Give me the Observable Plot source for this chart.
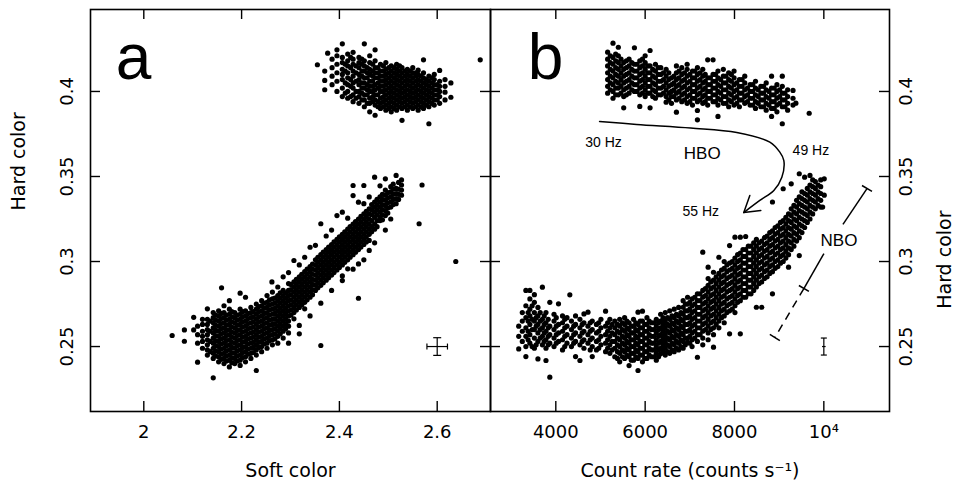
<!DOCTYPE html>
<html><head><meta charset="utf-8">
<script src="https://cdn.jsdelivr.net/npm/d3@7"></script>
<script src="https://cdn.jsdelivr.net/npm/@observablehq/plot@0.6"></script>
<style>
body{margin:0;background:#fff;}
#chart{position:relative;width:956px;height:481px;background:#fff;}
#chart svg{position:absolute;left:0;top:0;}
g[aria-label="ticklab"] text, g[aria-label="title"] text{letter-spacing:1px;}
</style></head><body><div id="chart"></div>
<script>
// ---------- axis ticks ----------
const yTicks = [0.25, 0.3, 0.35, 0.4];
const yTickLabels = ["0.25", "0.3", "0.35", "0.4"];
const aXTicks = [2, 2.2, 2.4, 2.6];
const aXLabels = ["2", "2.2", "2.4", "2.6"];
const bXTicks = [4000, 6000, 8000, 10000];
const bXLabels = ["4000", "6000", "8000", "10\u2074"];

// ---------- panel a: soft color vs hard color (columns: [soft, [hard...]]) ----------
const aUpper = [
[2.355,[.4157]],[2.37,[.401,.4065,.412]],[2.376,[.4225]],[2.385,[.404,.409,.414,.419]],
[2.395,[.400,.406,.411,.416,.421,.4245]],[2.406,[.397,.402,.407,.410,.413,.417,.420,.428]],
[2.417,[.396,.400,.404,.408,.411,.415,.418,.422]],[2.428,[.394,.398,.402,.405,.409,.412,.416,.419,.423]],
[2.44,[.393,.397,.400,.404,.407,.410,.414,.417,.420]],[2.451,[.391,.395,.398,.402,.405,.408,.412,.415,.418,.428]],
[2.462,[.388,.393,.396,.400,.403,.406,.410,.413,.417,.421]],[2.473,[.386,.392,.395,.398,.401,.404,.408,.411,.414,.418,.4245]],
[2.484,[.390,.393,.396,.400,.403,.406,.409,.412,.416]],[2.495,[.389,.392,.395,.398,.401,.404,.407,.410,.413,.417]],
[2.506,[.388,.391,.394,.397,.400,.403,.406,.409,.412,.415]],[2.517,[.389,.392,.395,.398,.401,.404,.407,.410,.413,.416]],
[2.528,[.383,.390,.393,.396,.399,.402,.405,.408,.411,.414]],[2.539,[.389,.392,.395,.398,.401,.404,.407,.410,.413]],
[2.55,[.390,.393,.396,.399,.402,.405,.408,.411,.414]],[2.561,[.389,.392,.395,.398,.401,.404,.407,.410,.4125]],
[2.572,[.390,.393,.396,.399,.402,.405,.408,.411,.4186]],[2.583,[.381,.391,.394,.397,.400,.403,.406,.409]],
[2.594,[.392,.395,.398,.401,.404,.407,.410]],[2.605,[.393,.397,.400,.403,.406,.4124]],
[2.616,[.395,.3996,.403,.407]],[2.628,[.3966,.405]],[2.688,[.4186]]
];
const aUpperMid = [
[2.412,[.399,.405,.412,.416]],[2.423,[.397,.403,.407,.414,.420]],[2.434,[.396,.400,.406,.411,.415]],
[2.446,[.395,.399,.402,.405,.409,.412,.416,.419]],[2.457,[.393,.398,.401,.404,.408,.411,.414]],
[2.468,[.394,.397,.400,.403,.406,.409,.412,.416]],[2.479,[.391,.394,.398,.402,.405,.408,.411,.414]],
[2.49,[.391,.394,.397,.400,.403,.406,.409,.412,.415]],[2.501,[.390,.393,.396,.399,.402,.405,.408,.411,.414]],
[2.512,[.390,.393,.396,.399,.402,.405,.408,.411,.414]],[2.523,[.391,.394,.397,.400,.403,.406,.409,.412,.415]],
[2.534,[.391,.394,.397,.400,.403,.406,.409,.412]],[2.545,[.391,.394,.397,.400,.403,.406,.409,.412]],
[2.556,[.391,.394,.397,.400,.403,.406,.409,.411]],[2.567,[.391,.394,.397,.400,.403,.406,.409]],
[2.578,[.392,.395,.398,.401,.404,.407]],[2.589,[.393,.396,.399,.402,.405,.408]],[2.60,[.395,.398,.401,.404]]
];
const aLower = [
[2.058,[.2565]],[2.083,[.2531,.2598]],[2.102,[.2598,.2672]],[2.11,[.2408,.252,.257,.262]],
[2.12,[.249,.253,.256,.259,.263,.266]],[2.13,[.245,.248,.251,.254,.257,.260,.263,.266,.2722]],
[2.142,[.2316,.243,.246,.249,.252,.255,.258,.261,.264,.267,.270]],
[2.153,[.241,.244,.247,.250,.253,.256,.259,.262,.265,.268,.271]],[2.159,[.2845]],
[2.164,[.240,.243,.246,.249,.252,.255,.258,.261,.264,.267,.270,.274]],
[2.175,[.238,.242,.245,.248,.251,.254,.257,.260,.263,.266,.269,.272,.277]],
[2.186,[.240,.243,.246,.249,.252,.255,.258,.261,.264,.267,.270]],
[2.197,[.2389,.242,.245,.248,.251,.254,.257,.260,.263,.266,.269,.272,.2814]],
[2.208,[.241,.244,.247,.250,.253,.256,.259,.262,.265,.268,.271,.279]],
[2.219,[.243,.246,.249,.252,.255,.258,.261,.264,.267,.270,.273]],
[2.23,[.2359,.245,.248,.251,.254,.257,.260,.263,.266,.269,.272,.275]],
[2.241,[.247,.250,.253,.256,.259,.262,.265,.268,.271,.274,.277]],
[2.252,[.249,.252,.255,.258,.261,.264,.267,.270,.273,.276,.280]],
[2.263,[.251,.254,.257,.260,.263,.266,.269,.272,.275,.278,.282]],
[2.274,[.252,.256,.259,.262,.265,.268,.271,.274,.277,.280,.285]],
[2.285,[.255,.259,.262,.265,.268,.271,.274,.277,.280,.283]],
[2.296,[.258,.262,.265,.268,.271,.274,.277,.280,.283,.287]],
[2.307,[.2663,.270,.273,.276,.279,.282,.285,.288,.3006]],
[2.318,[.2624,.273,.276,.279,.282,.285,.288,.291]],
[2.329,[.2722,.276,.279,.282,.285,.288,.291,.294]],
[2.34,[.279,.282,.285,.288,.291,.294,.297,.3084]],
[2.351,[.283,.286,.289,.292,.295,.298,.301]],
[2.362,[.2506,.286,.289,.292,.295,.298,.301,.304,.3222]],
[2.373,[.289,.292,.295,.298,.301,.304,.307]],
[2.384,[.292,.295,.298,.301,.304,.307,.310]],
[2.395,[.295,.298,.301,.304,.307,.310,.313,.327]],
[2.406,[.2888,.298,.301,.304,.307,.310,.313,.316,.329]],
[2.417,[.2957,.301,.304,.307,.310,.313,.316,.319]],
[2.428,[.304,.307,.310,.313,.316,.319,.322,.3388,.3447]],
[2.439,[.2784,.2986,.307,.310,.313,.316,.319,.322,.325,.3349]],
[2.45,[.310,.313,.316,.319,.322,.325,.328,.3447]],
[2.461,[.3065,.3124,.316,.319,.322,.325,.328,.331]],
[2.472,[.319,.322,.326,.329,.332,.335,.3496]],
[2.483,[.3241,.326,.329,.332,.335,.338]],
[2.494,[.327,.330,.333,.336,.339,.342,.3486]],
[2.505,[.332,.335,.338,.341,.344]],
[2.516,[.334,.337,.340,.343,.3506]],
[2.527,[.339,.342,.345,.348]],
[2.563,[.3222]],[2.569,[.345]],[2.638,[.300]]
];
const aLowerMid = [
[2.136,[.247,.253,.259,.265]],[2.147,[.2445,.2475,.2505,.2535,.2565,.2595,.2625,.2655,.2685]],
[2.158,[.2425,.2455,.2485,.2515,.2545,.2575,.2605,.2635,.2665,.2695]],
[2.169,[.2415,.2445,.2475,.2505,.2535,.2565,.2595,.2625,.2655,.2685]],
[2.18,[.2405,.2435,.2465,.2495,.2525,.2555,.2585,.2615,.2645,.2675,.2705]],
[2.191,[.2415,.2445,.2475,.2505,.2535,.2565,.2595,.2625,.2655,.2685]],
[2.202,[.2435,.2465,.2495,.2525,.2555,.2585,.2615,.2645,.2675,.2705]],
[2.213,[.2455,.2485,.2515,.2545,.2575,.2605,.2635,.2665,.2695]],
[2.224,[.2465,.2495,.2525,.2555,.2585,.2615,.2645,.2675,.2705]],
[2.235,[.2495,.2525,.2555,.2585,.2615,.2645,.2675,.2705,.2735]],
[2.246,[.2515,.2545,.2575,.2605,.2635,.2665,.2695,.2725,.2755]],
[2.257,[.2535,.2565,.2595,.2625,.2655,.2685,.2715,.2745,.2775]],
[2.268,[.2545,.2575,.2605,.2635,.2665,.2695,.2725,.2755,.2785]],
[2.279,[.2575,.2605,.2635,.2665,.2695,.2725,.2755,.2785,.2815]],
[2.29,[.2605,.2635,.2665,.2695,.2725,.2755,.2785,.2815]],
[2.301,[.2685,.2715,.2745,.2775,.2805,.2835,.2865]],[2.312,[.2715,.2745,.2775,.2805,.2835,.2865,.2895]],
[2.323,[.2745,.2775,.2805,.2835,.2865,.2895,.2925]],[2.334,[.2775,.2805,.2835,.2865,.2895,.2925,.2955]],
[2.345,[.2805,.2835,.2865,.2895,.2925,.2955,.2985]],[2.356,[.2845,.2875,.2905,.2935,.2965,.2995,.3025]],
[2.367,[.2875,.2905,.2935,.2965,.2995,.3025,.3055]],[2.378,[.2905,.2935,.2965,.2995,.3025,.3055,.3085]],
[2.389,[.2935,.2965,.2995,.3025,.3055,.3085,.3115]],[2.40,[.2965,.2995,.3025,.3055,.3085,.3115,.3145]],
[2.411,[.2995,.3025,.3055,.3085,.3115,.3145,.3175]],[2.422,[.3025,.3055,.3085,.3115,.3145,.3175,.3205]],
[2.433,[.3055,.3085,.3115,.3145,.3175,.3205,.3235]],[2.444,[.3085,.3115,.3145,.3175,.3205,.3235,.3265]],
[2.455,[.3115,.3145,.3175,.3205,.3235,.3265,.3295]],[2.466,[.3175,.3205,.3240,.3275,.3305,.3335]],
[2.477,[.3205,.3240,.3275,.3305,.3335,.3365]],[2.488,[.3245,.3275,.3305,.3335,.3365,.3395]],
[2.499,[.3285,.3315,.3345,.3375,.3405]],[2.51,[.3335,.3365,.3395,.3425,.3455]],[2.521,[.3365,.3395,.3425,.3465]]
];
// scattered points along both edges of the lower branch
const aLowerEdge = [
[2.262,[.288]],[2.285,[.291]],[2.296,[.2935,.252]],[2.318,[.298,.2575]],[2.329,[.3025]],[2.34,[.268]],
[2.351,[.3095]],[2.362,[.2755]],[2.373,[.315]],[2.384,[.3185,.283]],[2.406,[.2915]],[2.417,[.3255]],
[2.428,[.2955]],[2.45,[.334,.301]],[2.461,[.338]],[2.472,[.311]],[2.483,[.3445]],[2.494,[.3185]],[2.505,[.325]]
];
const aError = [{x: 2.6, y: 0.25, ex: 0.021, ey: 0.0052}];

// ---------- panel b: count rate vs hard color (columns: [rate, [hard...]]) ----------
const bUpper = [
[5160,[.4231,.399,.403,.407,.411,.415,.419]],[5280,[.396,.400,.404,.408,.412,.416,.420,.4284]],
[5400,[.398,.402,.405,.409,.413,.417,.421,.426]],[5520,[.3904,.397,.401,.405,.409,.413,.417]],
[5640,[.399,.403,.407,.411,.415,.419]],[5760,[.400,.404,.408,.412,.416,.4257]],
[5880,[.3912,.398,.402,.406,.410,.414,.418]],[6000,[.397,.401,.405,.409,.413,.417,.421]],
[6110,[.3904,.399,.403,.407,.411,.415,.4241]],[6230,[.396,.400,.404,.408,.412,.416]],
[6350,[.398,.402,.406,.410,.414]],[6470,[.3937,.397,.401,.405,.409,.413]],
[6590,[.393,.397,.400,.404,.408]],[6700,[.3878,.395,.399,.403,.407,.411,.415]],
[6820,[.394,.398,.402,.406,.410,.414]],[6940,[.393,.397,.401,.405,.409,.413,.416]],
[7060,[.392,.396,.400,.404,.408,.412]],[7170,[.3833,.3888,.394,.398,.402,.406,.410,.414]],
[7290,[.393,.397,.401,.405,.409,.413]],[7400,[.392,.396,.400,.404,.408,.4186]],
[7520,[.394,.398,.402,.406,.410,.4186]],[7630,[.3853,.392,.396,.400,.404,.408,.412]],
[7750,[.393,.397,.401,.405,.409,.413]],[7870,[.391,.395,.399,.403,.407,.411]],
[7990,[.392,.396,.400,.404,.408,.412]],[8110,[.391,.395,.399,.403,.407]],
[8230,[.393,.397,.401,.405,.409]],[8350,[.392,.396,.400,.404]],
[8470,[.390,.394,.398,.402,.406]],[8590,[.391,.395,.399,.403]],
[8710,[.389,.393,.397,.401,.405]],[8830,[.3853,.390,.394,.398,.402,.409]],
[8950,[.388,.392,.396,.400,.404]],[9070,[.381,.391,.395,.399,.403,.409]],
[9190,[.389,.393,.397,.401]],[9310,[.392,.396,.4006]],[9374,[.3931]],[9672,[.3872]]
];
const bUpperMid = [
[5220,[.401,.405,.409,.413,.417,.421]],[5340,[.398,.402,.406,.410,.414,.418,.422]],
[5460,[.399,.403,.407,.411,.415,.419]],[5580,[.398,.402,.406,.410,.414,.418]],
[5700,[.401,.405,.409,.413,.417]],[5820,[.400,.404,.408,.412,.416]],
[5940,[.399,.403,.407,.411,.415,.419]],[6055,[.399,.403,.407,.411,.415]],
[6170,[.397,.401,.405,.409,.413]],[6290,[.398,.402,.406,.410,.414]],
[6410,[.399,.403,.407,.411]],[6530,[.395,.399,.403,.407,.411]],
[6645,[.397,.401,.405,.409]],[6760,[.396,.400,.404,.408,.412]],
[6880,[.395,.399,.403,.407,.411]],[7000,[.394,.398,.402,.406,.410]],
[7115,[.396,.400,.404,.408,.412]],[7230,[.395,.399,.403,.407,.411]],
[7345,[.394,.398,.402,.406,.410]],[7460,[.396,.400,.404,.408]],
[7575,[.394,.398,.402,.406,.410]],[7690,[.395,.399,.403,.407]],
[7810,[.393,.397,.401,.405,.409]],[7930,[.394,.398,.402,.406,.410]],
[8050,[.393,.397,.401,.405]],[8170,[.395,.399,.403,.407]],
[8290,[.394,.398,.402]],[8410,[.392,.396,.400,.404]],
[8530,[.393,.397,.401]],[8650,[.391,.395,.399,.403]],
[8770,[.392,.396,.400]],[8890,[.390,.394,.398,.402]],
[9010,[.393,.397,.401]],[9130,[.391,.395,.399]]
];
const bLower = [
[3170,[.2486,.256,.262]],[3250,[.253,.259,.265,.270]],[3330,[.2441,.250,.256,.261,.267,.274,.283]],
[3420,[.252,.257,.263,.268,.272,.278,.283]],[3520,[.249,.255,.260,.265,.270,.276,.2805]],
[3600,[.2427,.253,.258,.263,.268,.273]],[3700,[.251,.256,.261,.266,.2849]],
[3780,[.2418,.249,.254,.259,.264,.270]],[3866,[.232,.252,.257,.262,.276]],
[3960,[.250,.255,.260,.265,.269]],[4060,[.253,.258,.263,.2751]],[4150,[.248,.254,.259,.264,.268]],
[4250,[.252,.257,.262,.267]],[4314,[.2804]],[4350,[.250,.255,.260,.265]],
[4442,[.2441,.253,.258,.263,.268]],[4540,[.2418,.251,.256,.261,.266]],[4630,[.249,.254,.259,.264,.2692]],
[4720,[.252,.257,.262,.2702]],[4816,[.2441,.250,.255,.260,.265]],[4910,[.248,.253,.258,.263]],
[5010,[.251,.256,.261,.266]],[5114,[.247,.252,.257,.262,.2708]],[5210,[.246,.251,.256,.261,.266]],
[5320,[.244,.249,.253,.257,.261,.265]],[5430,[.241,.246,.250,.254,.258,.262,.266]],
[5540,[.243,.247,.251,.255,.259,.263,.267]],[5640,[.2388,.244,.248,.252,.256,.260,.264]],
[5740,[.242,.246,.250,.254,.258,.262,.266]],[5840,[.2359,.243,.247,.251,.255,.259,.263,.2702]],
[5940,[.241,.245,.249,.253,.257,.261,.265,.2708]],[6040,[.243,.247,.251,.255,.259,.263,.267]],
[6140,[.244,.248,.252,.256,.260,.264]],[6250,[.242,.246,.250,.254,.258,.262,.266]],
[6347,[.2457,.249,.253,.257,.261,.265,.269]],[6450,[.245,.249,.253,.257,.261,.265,.270]],
[6550,[.246,.250,.254,.258,.262,.266,.271]],[6650,[.247,.251,.255,.259,.263,.267,.272]],
[6750,[.248,.252,.256,.260,.264,.268,.273]],[6850,[.249,.253,.257,.261,.265,.269,.2731,.277]],
[6950,[.2525,.255,.259,.263,.267,.271,.275,.279]],[7050,[.250,.254,.258,.262,.266,.270,.274,.278]],
[7170,[.2437,.253,.257,.261,.265,.269,.273,.277,.281]],
[7290,[.251,.255,.259,.263,.267,.271,.275,.279,.283,.3055]],
[7410,[.254,.258,.262,.266,.270,.274,.278,.282,.286,.290,.2967]],
[7530,[.2496,.257,.261,.265,.269,.273,.277,.281,.285,.289,.2937]],
[7650,[.261,.265,.269,.273,.277,.281,.285,.289,.293,.3025]],
[7770,[.264,.268,.272,.276,.280,.284,.288,.292,.296,.300]],
[7890,[.2575,.271,.275,.279,.283,.287,.291,.295,.299,.3094]],
[8010,[.270,.274,.278,.282,.286,.290,.294,.298,.302,.3143]],
[8130,[.2575,.277,.281,.285,.289,.293,.297,.301,.305,.3143]],
[8250,[.279,.283,.287,.291,.295,.299,.303,.307,.3147]],
[8370,[.281,.285,.289,.293,.297,.301,.305,.309]],
[8490,[.2731,.285,.289,.293,.297,.301,.305,.309,.313]],
[8610,[.2731,.288,.292,.296,.300,.304,.308,.312]],
[8730,[.291,.295,.299,.303,.307,.311,.315]],
[8850,[.281,.294,.298,.302,.306,.310,.314,.318,.335]],
[8970,[.297,.301,.305,.309,.313,.317,.321]],
[9090,[.300,.304,.308,.312,.316,.320,.324,.3428]],
[9210,[.2967,.304,.308,.312,.316,.320,.324,.328]],[9270,[.3457]],
[9330,[.309,.313,.317,.321,.325,.329,.333]],
[9450,[.3035,.314,.318,.322,.326,.330,.334,.338,.3516]],
[9570,[.320,.324,.328,.332,.336,.340,.3496]],
[9690,[.325,.329,.333,.337,.341,.345,.3506]],
[9810,[.331,.335,.339,.343,.347]],[9930,[.332,.336,.340,.344,.348]],
[9973,[.332]],[10009,[.339,.3486]]
];
const bLowerMid = [
[3380,[.254,.259,.265,.270]],[3470,[.250,.260,.266,.274]],[3560,[.251,.262,.267]],
[3650,[.255,.260,.265,.270]],[3740,[.253,.258,.263,.268]],[3830,[.251,.256,.261,.266]],
[4010,[.252,.257,.262,.267]],[4200,[.250,.256,.261,.266]],[4400,[.252,.257,.262]],
[4590,[.253,.258,.263]],[4770,[.248,.254,.259,.264]],[4960,[.249,.254,.259,.264]],
[5160,[.249,.254,.259,.264]],[5260,[.248,.253,.258,.263]],
[5380,[.243,.247,.251,.255,.259,.263]],[5490,[.244,.248,.252,.256,.260,.264]],
[5590,[.245,.249,.253,.257,.261,.265]],[5690,[.242,.246,.250,.254,.258,.262]],
[5790,[.244,.248,.252,.256,.260,.264]],[5890,[.245,.249,.253,.257,.261,.265]],
[5990,[.243,.247,.251,.255,.259,.263]],[6090,[.245,.249,.253,.257,.261,.265]],
[6195,[.244,.248,.252,.256,.260,.264]],[6300,[.244,.248,.252,.256,.260,.264]],
[6400,[.247,.251,.255,.259,.263,.267]],[6500,[.247,.251,.255,.259,.263,.267]],
[6600,[.248,.252,.256,.260,.264,.268]],[6700,[.249,.253,.257,.261,.265,.269]],
[6800,[.250,.254,.258,.262,.266,.270]],[6900,[.251,.255,.259,.263,.267,.271,.275]],
[7000,[.252,.256,.260,.264,.268,.272,.276]],[7110,[.255,.259,.263,.267,.271,.275,.279]],
[7230,[.257,.261,.265,.269,.273,.277,.281]],[7350,[.260,.264,.268,.272,.276,.280,.284]],
[7470,[.260,.264,.268,.272,.276,.280,.284,.288]],[7590,[.263,.267,.271,.275,.279,.283,.287,.291]],
[7710,[.267,.271,.275,.279,.283,.287,.291,.295]],[7830,[.270,.274,.278,.282,.286,.290,.294,.298]],
[7950,[.272,.276,.280,.284,.288,.292,.296,.300]],[8070,[.276,.280,.284,.288,.292,.296,.300,.304]],
[8190,[.279,.283,.287,.291,.295,.299,.303,.307]],[8310,[.281,.285,.289,.293,.297,.301,.305,.309]],
[8430,[.283,.287,.291,.295,.299,.303,.307,.311]],[8550,[.287,.291,.295,.299,.303,.307,.311]],
[8670,[.290,.294,.298,.302,.306,.310,.314]],[8790,[.293,.297,.301,.305,.309,.313,.317]],
[8910,[.296,.300,.304,.308,.312,.316,.320]],[9030,[.299,.303,.307,.311,.315,.319,.323]],
[9150,[.302,.306,.310,.314,.318,.322,.326]],[9270,[.307,.311,.315,.319,.323,.327,.331]],
[9390,[.312,.316,.320,.324,.328,.332,.336]],[9510,[.317,.321,.325,.329,.333,.337,.341]],
[9630,[.323,.327,.331,.335,.339,.343]],[9750,[.328,.332,.336,.340,.344,.348]],[9870,[.333,.337,.341,.345]]
];
const bError = [{x: 10000, y: 0.25, ex: 40, ey: 0.005}];

// ---------- panel b annotations (data coordinates) ----------
const hboCurve = [[4980,.3824],[5809,.3806],[7020,.3785],[8051,.3759],[8791,.3702],[9015,.3643],
  [9105,.3594],[9060,.3496],[8881,.3418],[8567,.3359],[8208,.3288]];
const hboArrowHead = [[8589,.3300],[8208,.3288],[8343,.3388]];
const nboSolid = [[[10966,.3429],[10428,.3218]], [[10002,.3047],[9553,.2841]]];
const nboDashed = [[[9553,.2841],[8903,.2553]]];
const nboCaps = [[[10854,.3447],[11078,.3412]], [[9441,.2859],[9666,.2824]], [[8791,.2571],[9015,.2535]]];
const freqLabels = [{x:5069,y:.370,t:"30 Hz"},{x:9710,y:.3653,t:"49 Hz"},{x:7244,y:.3294,t:"55 Hz"}];
const branchLabels = [{x:7278,y:.3635,t:"HBO"},{x:10338,y:.3124,t:"NBO"}];

// ---------- layout ----------
const W = 956, H = 481, MT = 9, MB = 70, FH = H - MT - MB, TICK = 10;
const yDomain = [0.2118, 0.4482];
const FONT = "DejaVu Sans";
const DOT_R = 2.6;
const flat = cols => cols.flatMap(([x, ys]) => ys.map(y => ({x, y})));
const hCap = {draw(ctx, size) { const w = Math.sqrt(size / Math.PI); ctx.moveTo(-w, 0); ctx.lineTo(w, 0); }};
const vCap = {draw(ctx, size) { const w = Math.sqrt(size / Math.PI); ctx.moveTo(0, -w); ctx.lineTo(0, w); }};

function frameMarks(xTicks, xLabels, FW) {
  return [
    Plot.frame({stroke: "black", strokeWidth: 1.6}),
    Plot.tickX(xTicks, {x: d => d, insetTop: FH - TICK, strokeWidth: 1.4}),
    Plot.tickX(xTicks, {x: d => d, insetBottom: FH - TICK, strokeWidth: 1.4}),
    Plot.tickY(yTicks, {y: d => d, insetRight: FW - TICK, strokeWidth: 1.4}),
    Plot.tickY(yTicks, {y: d => d, insetLeft: FW - TICK, strokeWidth: 1.4}),
    Plot.text(xTicks, {x: d => d, text: (d, i) => xLabels[i], frameAnchor: "bottom", dy: 21,
      lineAnchor: "middle", fontSize: 18, fill: "black", ariaLabel: "ticklab"})
  ];
}
function errorMarks(err, capX, capY) {
  return [
    Plot.link(err, {x1: d => d.x - d.ex, x2: d => d.x + d.ex, y1: d => d.y, y2: d => d.y, strokeWidth: 1.2}),
    Plot.link(err, {x1: d => d.x, x2: d => d.x, y1: d => d.y - d.ey, y2: d => d.y + d.ey, strokeWidth: 1.2}),
    Plot.dot(err.flatMap(d => [{x: d.x, y: d.y - d.ey}, {x: d.x, y: d.y + d.ey}]), {x: "x", y: "y", symbol: hCap, r: capY, stroke: "black", strokeWidth: 1.2}),
    ...(capX ? [Plot.dot(err.flatMap(d => [{x: d.x - d.ex, y: d.y}, {x: d.x + d.ex, y: d.y}]), {x: "x", y: "y", symbol: vCap, r: capX, stroke: "black", strokeWidth: 1.2})] : [])
  ];
}
const styleBase = {fontFamily: FONT, fontSize: "18px", background: "transparent", overflow: "visible", color: "black"};

// Panel a
const plotA = Plot.plot({
  width: W, height: H, marginTop: MT, marginBottom: MB, marginLeft: 90, marginRight: W - 490,
  x: {domain: [1.891, 2.709], axis: null},
  y: {domain: yDomain, axis: null},
  style: styleBase,
  marks: [
    ...frameMarks(aXTicks, aXLabels, 400),
    Plot.text(yTicks, {y: d => d, text: (d, i) => yTickLabels[i], frameAnchor: "left", dx: -23, rotate: -90,
      textAnchor: "middle", lineAnchor: "middle", fontSize: 18, fill: "black", ariaLabel: "ticklab"}),
    Plot.text(["Soft color"], {text: d => d, frameAnchor: "bottom", dy: 59, lineAnchor: "middle", fontSize: 19, fill: "black", ariaLabel: "title"}),
    Plot.text(["Hard color"], {text: d => d, frameAnchor: "left", dx: -72, rotate: -90, lineAnchor: "middle", fontSize: 19, fill: "black", ariaLabel: "title"}),
    Plot.text(["a"], {text: d => d, frameAnchor: "top-left", dx: 43, dy: 69, lineAnchor: "bottom", textAnchor: "middle", fontSize: 64, fontFamily: "Liberation Sans", fill: "black"}),
    Plot.dot([aUpper, aUpperMid, aLower, aLowerMid, aLowerEdge].flatMap(flat), {x: "x", y: "y", r: DOT_R, fill: "black"}),
    ...errorMarks(aError, 3, 4)
  ]
});

// Panel b
const plotB = Plot.plot({
  width: W, height: H, marginTop: MT, marginBottom: MB, marginLeft: 490, marginRight: W - 889,
  x: {domain: [2538, 11470], axis: null},
  y: {domain: yDomain, axis: null},
  style: styleBase,
  marks: [
    ...frameMarks(bXTicks, bXLabels, 399),
    Plot.text(yTicks, {y: d => d, text: (d, i) => yTickLabels[i], frameAnchor: "right", dx: 17, rotate: -90,
      textAnchor: "middle", lineAnchor: "middle", fontSize: 18, fill: "black", ariaLabel: "ticklab"}),
    Plot.text(["Count rate (counts s\u207B\u00B9)"], {text: d => d, frameAnchor: "bottom", dy: 59, lineAnchor: "middle", fontSize: 19, fill: "black", ariaLabel: "title"}),
    Plot.text(["Hard color"], {text: d => d, frameAnchor: "right", dx: 55, rotate: -90, lineAnchor: "middle", fontSize: 19, fill: "black", ariaLabel: "title"}),
    Plot.text(["b"], {text: d => d, frameAnchor: "top-left", dx: 55, dy: 69, lineAnchor: "bottom", textAnchor: "middle", fontSize: 64, fontFamily: "Liberation Sans", fill: "black"}),
    Plot.dot([bUpper, bUpperMid, bLower, bLowerMid].flatMap(flat), {x: "x", y: "y", r: DOT_R, fill: "black"}),
    ...errorMarks(bError, 0, 3),
    Plot.line(hboCurve, {x: d => d[0], y: d => d[1], curve: "catmull-rom", strokeWidth: 1.5}),
    Plot.line(hboArrowHead, {x: d => d[0], y: d => d[1], strokeWidth: 1.5}),
    Plot.link(nboSolid.concat(nboCaps), {x1: d => d[0][0], y1: d => d[0][1], x2: d => d[1][0], y2: d => d[1][1], strokeWidth: 1.5}),
    Plot.link(nboDashed, {x1: d => d[0][0], y1: d => d[0][1], x2: d => d[1][0], y2: d => d[1][1], strokeWidth: 1.5, strokeDasharray: "8,6"}),
    Plot.text(freqLabels, {x: "x", y: "y", text: "t", fontSize: 14, fontFamily: "Liberation Sans", fill: "black"}),
    Plot.text(branchLabels, {x: "x", y: "y", text: "t", fontSize: 17, fontFamily: "Liberation Sans", fill: "black"})
  ]
});

const chart = document.getElementById("chart");
chart.appendChild(plotA);
chart.appendChild(plotB);
</script>
</body></html>
